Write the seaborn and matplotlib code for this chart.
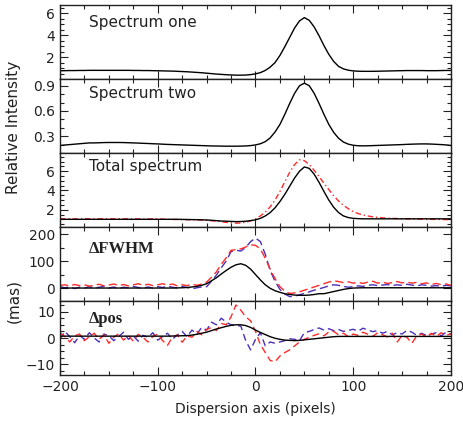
import numpy as np
import pandas as pd
import matplotlib
matplotlib.use("Agg")
import matplotlib.pyplot as plt
import seaborn as sns
from matplotlib.ticker import MultipleLocator

# ---------------------------------------------------------------
# Data (step of 5 pixels)
# ---------------------------------------------------------------
pixels = list(range(-200, 205, 5))

spec_one = [0.75, 0.76, 0.77, 0.77, 0.78, 0.78, 0.79, 0.79, 0.79, 0.79, 0.79, 0.79, 0.79, 0.79, 0.79,
            0.78, 0.78, 0.77, 0.77, 0.76, 0.75, 0.74, 0.73, 0.72, 0.70, 0.68, 0.66, 0.63, 0.60, 0.57,
            0.53, 0.49, 0.45, 0.42, 0.39, 0.37, 0.35, 0.35, 0.36, 0.40, 0.47, 0.58, 0.78, 1.08, 1.50,
            2.15, 2.95, 3.80, 4.65, 5.30, 5.60, 5.35, 4.75, 3.95, 3.05, 2.25, 1.60, 1.15, 0.92, 0.80,
            0.74, 0.71, 0.70, 0.70, 0.70, 0.71, 0.72, 0.73, 0.74, 0.75, 0.76, 0.77, 0.77, 0.77, 0.77,
            0.76, 0.76, 0.76, 0.77, 0.78, 0.78]

spec_two = [0.19, 0.195, 0.20, 0.205, 0.21, 0.215, 0.22, 0.22, 0.222, 0.224, 0.225, 0.225, 0.225, 0.224,
            0.222, 0.22, 0.218, 0.215, 0.213, 0.21, 0.208, 0.205, 0.202, 0.20, 0.198, 0.196, 0.194,
            0.192, 0.19, 0.188, 0.186, 0.184, 0.183, 0.182, 0.181, 0.181, 0.181, 0.182, 0.184, 0.188,
            0.196, 0.21, 0.235, 0.28, 0.35, 0.44, 0.56, 0.69, 0.81, 0.90, 0.93, 0.90, 0.81, 0.69, 0.56,
            0.44, 0.345, 0.275, 0.23, 0.205, 0.192, 0.186, 0.185, 0.186, 0.188, 0.19, 0.192, 0.194,
            0.196, 0.198, 0.20, 0.203, 0.205, 0.207, 0.208, 0.208, 0.206, 0.203, 0.20, 0.196, 0.19]

total_model = [1.0, 1.0, 1.0, 1.0, 1.0, 1.0, 1.0, 1.0, 1.0, 1.0, 1.0, 1.0, 1.0, 1.0, 1.0,
               1.0, 1.0, 1.0, 1.0, 1.0, 1.0, 1.0, 1.0, 1.0, 1.0, 0.99, 0.98, 0.97, 0.96, 0.95,
               0.93, 0.90, 0.86, 0.82, 0.80, 0.78, 0.76, 0.77, 0.80, 0.86, 0.95, 1.10, 1.35, 1.70, 2.20,
               2.85, 3.60, 4.45, 5.30, 6.00, 6.45, 6.30, 5.70, 4.85, 3.90, 3.00, 2.25, 1.70, 1.35, 1.18,
               1.10, 1.07, 1.05, 1.05, 1.05, 1.05, 1.05, 1.05, 1.05, 1.05, 1.05, 1.05, 1.05, 1.05, 1.05,
               1.05, 1.05, 1.05, 1.05, 1.05, 1.05]

total_obs = [1.05, 1.06, 1.05, 1.04, 1.05, 1.06, 1.05, 1.04, 1.05, 1.05, 1.04, 1.05, 1.06, 1.05, 1.04,
             1.05, 1.04, 1.03, 1.04, 1.03, 1.02, 1.01, 1.00, 0.99, 0.98, 0.97, 0.96, 0.95, 0.94, 0.92,
             0.90, 0.85, 0.80, 0.75, 0.68, 0.63, 0.60, 0.62, 0.70, 0.84, 1.05, 1.35, 1.75, 2.30, 3.00,
             3.90, 4.90, 5.90, 6.70, 7.20, 7.10, 6.70, 6.10, 5.45, 4.75, 4.10, 3.45, 2.90, 2.45, 2.10,
             1.80, 1.60, 1.45, 1.35, 1.25, 1.20, 1.15, 1.12, 1.10, 1.08, 1.06, 1.05, 1.04, 1.03, 1.02,
             1.01, 1.00, 0.99, 0.98, 0.97, 0.96]

fwhm_model = [0, 0, 0, 0, 0, 0, 0, 0, 0, 0, 0, 0, 0, 0, 0,
              0, 0, 0, 0, 0, 0, 0, 0, 0, 0.5, 1, 2, 4, 6, 10,
              16, 27, 38, 52, 65, 77, 86, 90, 84, 70, 50, 30, 12, -1, -10,
              -16, -21, -24, -26, -27, -27, -26, -24, -21, -21, -17, -13, -9, -5, -2,
              0, 0.5, 1, 1, 1, 1, 1, 1, 1, 1, 1, 1, 1, 1, 1,
              1, 1, 1, 1, 1, 1]

fwhm_red = [10, 12, 8, 13, 9, 12, 7, 10, 14, 8, 11, 15, 9, 13, 8,
            12, 16, 10, 14, 9, 12, 16, 11, 15, 8, 12, 9, 14, 10, 15,
            22, 40, 60, 88, 112, 140, 142, 145, 152, 160, 158, 145, 110, 70, 35,
            5, -12, -20, -18, -14, -8, -2, 4, 10, 16, 22, 27, 24, 20, 23,
            18, 21, 17, 22, 25, 18, 22, 17, 20, 24, 19, 22, 18, 21, 16,
            19, 13, 17, 12, 15, 10]

fwhm_blue = [5, 1, 4, -2, 3, 0, 5, -1, 3, 6, 0, 4, -2, 3, 1,
             6, 2, -1, 4, 0, 5, 2, 7, 3, 0, 6, 2, -3, 1, 4,
             5, 25, 48, 75, 100, 135, 140, 137, 150, 172, 185, 172, 125, 65, 25,
             -5, -22, -32, -30, -25, -20, -14, -8, -3, 2, 8, 12, 10, 6, 3,
             5, 8, 6, 10, 12, 9, 11, 13, 9, 12, 10, 14, 11, 8, 12,
             10, 7, 9, 6, 10, 8]

pos_model = [0.7, 0.7, 0.7, 0.7, 0.7, 0.7, 0.7, 0.7, 0.7, 0.7, 0.7, 0.7, 0.7, 0.7, 0.7,
             0.7, 0.7, 0.7, 0.7, 0.7, 0.7, 0.7, 0.7, 0.75, 0.8, 0.85, 0.9, 1.1, 1.4, 1.8,
             2.2, 2.8, 3.4, 3.9, 4.4, 4.8, 5.0, 5.0, 4.7, 4.0, 3.0, 2.1, 1.3, 0.5, -0.1,
             -0.5, -0.8, -0.9, -1.0, -0.9, -0.7, -0.5, -0.3, -0.1, 0.1, 0.3, 0.5, 0.6, 0.6, 0.6,
             0.6, 0.6, 0.6, 0.6, 0.6, 0.6, 0.6, 0.6, 0.6, 0.6, 0.6, 0.6, 0.6, 0.6, 0.6,
             0.6, 0.6, 0.6, 0.6, 0.6, 0.6]

pos_red = [2.0, 0.5, -1.5, 0.8, 1.5, -1.0, 0.5, 1.8, -0.5, 1.2, -2.0, 0.3, 1.6, -0.8, 0.9,
           -1.2, 1.4, 0.2, -1.5, 0.6, 1.5, -1.0, -2.8, 0.4, 1.2, -1.6, 0.8, 0.3, 2.5, 1.2,
           3.2, 4.0, 2.8, 5.5, 5.0, 8.0, 12.5, 10.5, 8.0, 6.5, 2.5, -2.5, -5.5, -8.5, -9.0,
           -6.8, -5.5, -4.5, -3.0, -1.5, -0.5, 0.3, 1.0, 1.6, 0.8, 2.3, 2.5, 1.2, 1.8, 0.5,
           1.5, 1.0, 2.2, 1.4, 0.6, 2.0, 1.2, 0.4, 1.8, -1.5, 1.0, 0.2, -2.0, 0.8, 1.5,
           0.3, 1.8, 0.6, 2.0, 1.0, 1.6]

pos_blue = [-0.5, 2.5, 0.5, -1.8, 1.0, -0.5, 2.0, 0.0, -1.5, 1.5, 0.8, -1.0, 0.5, 2.2, -0.5,
            0.8, -1.2, 1.0, 0.3, 2.0, -0.8, 0.5, 1.8, -0.5, 1.2, 2.5, 0.5, 3.0, 1.5, 4.0,
            3.0, 6.0, 5.0, 7.5, 6.0, 5.0, 4.8, 4.5, -1.0, -4.5, -0.5, 2.0, -3.0, -1.5, -2.0,
            -1.5, -1.0, -0.3, -0.5, -1.0, 2.0, 2.5, 3.2, 3.8, 3.0, 3.5, 2.8, 3.2, 2.5, 2.9,
            3.3, 2.6, 3.7, 3.0, 2.4, 2.8, 1.8, 2.5, 1.2, 2.0, 1.5, 2.9, 2.2, 1.0, 1.8,
            0.9, 1.5, 2.0, 0.8, 2.2, 1.5]

panel_titles = ["Spectrum one", "Spectrum two", "Total spectrum", "\u0394FWHM", "\u0394pos"]
panel_ylims = [(0, 6.75), (0.1, 0.98), (0.2, 7.9), (-48, 226), (-14, 14)]
panel_major = [[2, 4, 6], [0.3, 0.6, 0.9], [2, 4, 6], [0, 100, 200], [-10, 0, 10]]
panel_minor = [0.5, 0.1, 0.5, 50, 2.5]

# ---------------------------------------------------------------
# Style
# ---------------------------------------------------------------
sns.set_theme(style="ticks")
plt.rcParams['font.family'] = ['DejaVu Sans']
plt.rcParams['axes.linewidth'] = 1.0
plt.rcParams['axes.edgecolor'] = '#222222'

RED = '#ff2a2a'
BLUE = '#4a2fb8'

fig = plt.figure(figsize=(4.64, 4.34), dpi=100)
W, H = 464, 434
left_px, right_px = 60, 451
top_px, panel_h = 5, 74

axes = []
for i in range(5):
    bottom = 1 - (top_px + panel_h * (i + 1)) / H
    ax = fig.add_axes([left_px / W, bottom, (right_px - left_px) / W, panel_h / H])
    axes.append(ax)

df = pd.DataFrame({
    "x": pixels,
    "one": spec_one, "two": spec_two,
    "tot_m": total_model, "tot_o": total_obs,
    "fw_m": fwhm_model, "fw_r": fwhm_red, "fw_b": fwhm_blue,
    "pos_m": pos_model, "pos_r": pos_red, "pos_b": pos_blue,
})

lw = 1.0
sns.lineplot(data=df, x="x", y="one", ax=axes[0], color="black", lw=lw)
sns.lineplot(data=df, x="x", y="two", ax=axes[1], color="black", lw=lw)

sns.lineplot(data=df, x="x", y="tot_o", ax=axes[2], color=RED, lw=lw)
axes[2].lines[-1].set_linestyle((0, (4, 2, 1, 2)))
sns.lineplot(data=df, x="x", y="tot_m", ax=axes[2], color="black", lw=lw)

sns.lineplot(data=df, x="x", y="fw_b", ax=axes[3], color=BLUE, lw=lw)
axes[3].lines[-1].set_linestyle((0, (6, 3)))
sns.lineplot(data=df, x="x", y="fw_r", ax=axes[3], color=RED, lw=lw)
axes[3].lines[-1].set_linestyle((0, (6, 3)))
sns.lineplot(data=df, x="x", y="fw_m", ax=axes[3], color="black", lw=lw)

sns.lineplot(data=df, x="x", y="pos_b", ax=axes[4], color=BLUE, lw=lw)
axes[4].lines[-1].set_linestyle((0, (5, 3)))
sns.lineplot(data=df, x="x", y="pos_r", ax=axes[4], color=RED, lw=lw)
axes[4].lines[-1].set_linestyle((0, (5, 3)))
sns.lineplot(data=df, x="x", y="pos_m", ax=axes[4], color="black", lw=lw)

title_y = [0.77, 0.80, 0.82, 0.70, 0.76]
for i, ax in enumerate(axes):
    ax.set_xlim(-200, 200)
    ax.set_ylim(*panel_ylims[i])
    ax.set_yticks(panel_major[i])
    ax.yaxis.set_minor_locator(MultipleLocator(panel_minor[i]))
    ax.xaxis.set_major_locator(MultipleLocator(100))
    ax.xaxis.set_minor_locator(MultipleLocator(25))
    ax.tick_params(which='both', direction='in', top=True, right=True,
                   labelsize=10, colors='#222222', width=0.8)
    ax.tick_params(which='major', length=6)
    ax.tick_params(which='minor', length=3)
    ax.set_xlabel("")
    ax.set_ylabel("")
    if i < 4:
        ax.tick_params(labelbottom=False)
    if i < 3:
        ax.text(0.074, title_y[i], panel_titles[i], transform=ax.transAxes,
                fontsize=11, va='center', ha='left', color='#222222')
    else:
        ax.text(0.074, title_y[i], panel_titles[i], transform=ax.transAxes,
                fontsize=12, va='center', ha='left', color='#222222',
                family=['Liberation Serif', 'DejaVu Serif'], fontweight='bold')

axes[4].set_xlabel("Dispersion axis (pixels)", fontsize=10, color='#222222', labelpad=6)
fig.text(14 / W, 1 - 127 / H, "Relative Intensity", rotation=90, fontsize=11,
         va='center', ha='center', color='#222222')
fig.text(14 / W, 1 - 301 / H, "(mas)", rotation=90, fontsize=11,
         va='center', ha='center', color='#222222')

fig.savefig("out.png", dpi=100)
